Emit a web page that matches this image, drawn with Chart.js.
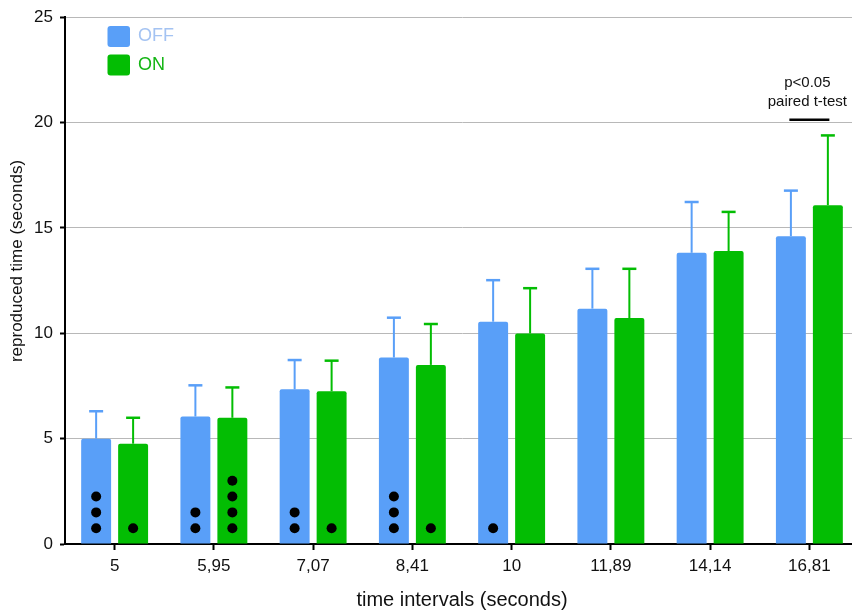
<!DOCTYPE html>
<html>
<head>
<meta charset="utf-8">
<script src="https://cdn.jsdelivr.net/npm/chart.js@4/dist/chart.umd.min.js"></script>
<style>
  html, body { margin: 0; padding: 0; background: #fff; overflow: hidden; }
  #wrap { position: relative; width: 860px; height: 613px; }
</style>
</head>
<body>
<div id="wrap"><canvas id="c"></canvas></div>
<script>
// ---- data ----
const categories = ['5', '5,95', '7,07', '8,41', '10', '11,89', '14,14', '16,81'];
const offMeans = [5.0, 6.05, 7.34, 8.85, 10.55, 11.17, 13.82, 14.61];
const offSD    = [1.30, 1.48, 1.39, 1.89, 1.97, 1.89, 2.41, 2.16];
const onMeans  = [4.76, 5.99, 7.25, 8.50, 9.99, 10.72, 13.90, 16.08];
const onSD     = [1.23, 1.44, 1.45, 1.94, 2.15, 2.34, 1.86, 3.31];
const offDots  = [3, 2, 2, 3, 1, 0, 0, 0];
const onDots   = [1, 4, 1, 1, 0, 0, 0, 0];
const dotStep  = 0.75;
const yTicks   = [0, 5, 10, 15, 20, 25];
const sigCategoryIndex = 7;
const sigLines = ['p<0.05', 'paired t-test'];
const sigLevel = 20.13;

const BLUE = '#599ff8';
const GREEN = '#03bd03';
const FONT = '"Liberation Sans", Arial, Helvetica, sans-serif';

const errorBars = {
  id: 'errorBars',
  afterDatasetsDraw(chart) {
    const ctx = chart.ctx, y = chart.scales.y;
    const sds = [offSD, onSD];
    chart.data.datasets.forEach((ds, di) => {
      const meta = chart.getDatasetMeta(di);
      ctx.save();
      ctx.strokeStyle = ds.backgroundColor;
      meta.data.forEach((bar, i) => {
        const top = y.getPixelForValue(ds.data[i] + sds[di][i]);
        ctx.lineWidth = 2;
        ctx.beginPath();
        ctx.moveTo(bar.x, bar.y);
        ctx.lineTo(bar.x, top);
        ctx.stroke();
        ctx.lineWidth = 2.5;
        ctx.beginPath();
        ctx.moveTo(bar.x - 7, top);
        ctx.lineTo(bar.x + 7, top);
        ctx.stroke();
      });
      ctx.restore();
    });
  }
};

const dotsPlugin = {
  id: 'dots',
  afterDatasetsDraw(chart) {
    const ctx = chart.ctx, y = chart.scales.y;
    const counts = [offDots, onDots];
    ctx.save();
    ctx.fillStyle = '#000';
    chart.data.datasets.forEach((ds, di) => {
      const meta = chart.getDatasetMeta(di);
      meta.data.forEach((bar, i) => {
        for (let k = 1; k <= counts[di][i]; k++) {
          ctx.beginPath();
          ctx.arc(bar.x, y.getPixelForValue(k * dotStep), 5, 0, Math.PI * 2);
          ctx.fill();
        }
      });
    });
    ctx.restore();
  }
};

const extras = {
  id: 'extras',
  afterDraw(chart) {
    const ctx = chart.ctx, x = chart.scales.x, y = chart.scales.y;
    ctx.save();
    // legend
    const items = [
      { label: 'OFF', fill: BLUE, text: '#a4c3f2', top: 26 },
      { label: 'ON', fill: GREEN, text: '#14b514', top: 54.5 }
    ];
    items.forEach(it => {
      ctx.fillStyle = it.fill;
      ctx.beginPath();
      ctx.roundRect(107.5, it.top, 22.5, 21, 3);
      ctx.fill();
      ctx.fillStyle = it.text;
      ctx.font = '18px ' + FONT;
      ctx.textBaseline = 'middle';
      ctx.textAlign = 'left';
      ctx.fillText(it.label, 138, it.top + 10.5);
    });
    // significance annotation
    const cx = x.getPixelForValue(sigCategoryIndex);
    const ly = y.getPixelForValue(sigLevel);
    ctx.strokeStyle = '#000';
    ctx.lineWidth = 2.5;
    ctx.beginPath();
    ctx.moveTo(cx - 20, ly);
    ctx.lineTo(cx + 20, ly);
    ctx.stroke();
    ctx.fillStyle = '#111';
    ctx.font = '15px ' + FONT;
    ctx.textAlign = 'center';
    ctx.textBaseline = 'middle';
    ctx.fillText(sigLines[0], cx - 2, 83);
    ctx.fillText(sigLines[1], cx - 2, 102);
    // y-axis title
    ctx.translate(17, 261);
    ctx.rotate(-Math.PI / 2);
    ctx.font = '17px ' + FONT;
    ctx.fillStyle = '#111';
    ctx.fillText('reproduced time (seconds)', 0, 0);
    ctx.restore();
  }
};

new Chart(document.getElementById('c'), {
  type: 'bar',
  data: {
    labels: categories,
    datasets: [
      { label: 'OFF', data: offMeans, backgroundColor: BLUE, borderRadius: 2, borderSkipped: 'bottom',
        categoryPercentage: 0.745, barPercentage: 0.81 },
      { label: 'ON', data: onMeans, backgroundColor: GREEN, borderRadius: 2, borderSkipped: 'bottom',
        categoryPercentage: 0.745, barPercentage: 0.81 }
    ]
  },
  options: {
    responsive: true,
    maintainAspectRatio: false,
    animation: false,
    events: [],
    layout: { padding: { top: 15, right: 1, left: 0, bottom: 0 } },
    plugins: { legend: { display: false }, tooltip: { enabled: false } },
    scales: {
      x: {
        grid: { display: true, drawOnChartArea: false, drawTicks: true, tickLength: 6, tickColor: '#000', tickWidth: 2, offset: false },
        border: { display: true, color: '#000', width: 2 },
        ticks: { color: '#111', font: { family: FONT, size: 17 }, padding: 6, maxRotation: 0 },
        title: { display: true, text: 'time intervals (seconds)', color: '#111', font: { family: FONT, size: 20 }, padding: { top: 0, bottom: 1 } },
        afterFit(scale) { scale.height = 69; }
      },
      y: {
        min: 0, max: 25,
        afterBuildTicks(scale) { scale.ticks = yTicks.map(v => ({ value: v })); },
        grid: { color: '#b8b8b8', lineWidth: 1, drawTicks: true, tickLength: 5, tickColor: '#000', tickWidth: 2 },
        border: { display: true, color: '#000', width: 2 },
        ticks: { color: '#111', font: { family: FONT, size: 17 }, padding: 7 },
        afterFit(scale) { scale.width = 65; }
      }
    }
  },
  plugins: [errorBars, dotsPlugin, extras]
});
</script>
</body>
</html>
